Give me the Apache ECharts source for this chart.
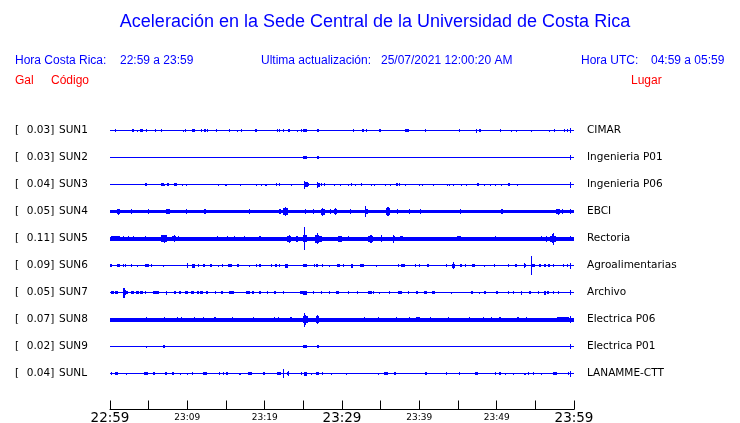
<!DOCTYPE html>
<html><head><meta charset="utf-8">
<script src="https://cdn.jsdelivr.net/npm/echarts@6/dist/echarts.min.js"></script>
<style>html,body{margin:0;padding:0;background:#fff}#c{width:740px;height:423px}</style>
</head><body><div id="c"></div>
<script>
// ---- data ----
const stationCodes = ['SUN1','SUN2','SUN3','SUN4','SUN5','SUN6','SUN7','SUN8','SUN9','SUNL'];
const peakGal = ['0.03','0.03','0.04','0.05','0.11','0.09','0.05','0.07','0.02','0.04'];
const places = ['CIMAR','Ingenieria P01','Ingenieria P06','EBCI','Rectoria','Agroalimentarias','Archivo','Electrica P06','Electrica P01','LANAMME-CTT'];
const timeLabels = ['22:59','23:09','23:19','23:29','23:39','23:49','23:59'];
// background noise half-amplitude per trace (amplitude units; 27 units = trace spacing)
const baseNoise = [0.5,0.5,0.5,1.8,2.0,0.5,0.8,2.0,0.5,0.5];
// events: [minute after 22:59, half-amplitude, duration in minutes]
const SUN1 = [[0.73,1.3,.13],[2.03,0.8,.13],[2.97,1.3,.3],[3.53,1,.13],[4.09,1.3,.3],[4.70,1.3,.13],[5.86,1.3,.13],[6.68,1.3,.13],[9.53,1,.13],[9.78,1.3,.13],[10.78,1.3,.3],[11.85,1.3,.13],[12.28,1.6,.3],[12.59,1.6,.13],[13.79,1.3,.13],[15.43,1.3,.13],[16.51,1,.13],[17.03,1.3,.13],[18.88,1.3,.3],[21.64,1.3,.13],[21.90,1.3,.13],[22.46,1.3,.13],[23.10,1.3,.25],[24.22,1,.13],[24.78,1.3,.13],[25.22,1.8,.5],[26.90,1.6,.3],[31.47,1.3,.13],[32.72,1.6,.3],[33.19,1.3,.13],[34.87,1.3,.25],[37.16,0.8,.13],[38.36,1.6,.3],[38.66,1.3,.13],[40.82,1.3,.13],[45.17,1.3,.13],[47.37,2,.13],[47.84,1.6,.3],[50.47,1.3,.13],[51.90,1,.13],[52.59,1,.13],[54.48,1,.13],[56.81,1,.13],[57.50,1.3,.13],[58.75,1.3,.13],[59.22,1.3,.13],[59.57,2.7,.2]];
const SUN2 = [[4.70,0.8,.13],[25.22,1.4,.5],[26.90,1.3,.3],[59.57,2.5,.2]];
const SUN3 = [[1.08,0.8,.13],[1.38,0.8,.13],[3.66,0.8,.13],[4.66,1.3,.3],[5.52,0.8,.13],[6.25,0.8,.13],[6.77,1.3,.3],[7.11,1,.13],[7.54,1.3,.3],[8.49,1.5,.3],[9.40,1,.13],[9.83,1,.13],[12.72,0.8,.13],[14.01,1,.13],[14.70,0.8,.13],[15.00,1,.13],[16.85,1,.13],[18.97,1,.13],[19.53,1,.13],[20.22,1,.25],[21.55,1.3,.13],[21.90,1.3,.13],[23.49,1,.13],[25.15,4,.15],[25.3,2.8,.5],[25.6,1.6,.3],[26.81,3,.13],[26.95,2,.4],[27.37,1.3,.2],[27.72,1.3,.2],[28.97,1,.13],[29.83,1,.13],[30.82,1,.13],[31.29,1.3,.13],[31.77,1,.13],[32.54,1.3,.13],[33.84,1,.13],[34.18,1,.13],[35.65,1,.13],[36.29,1,.13],[37.07,1.3,.3],[37.46,1.3,.13],[38.15,1,.13],[40.0,1,.13],[40.39,1,.13],[41.81,1,.13],[43.62,1,.13],[43.88,1,.13],[44.40,1,.13],[45.47,1,.13],[46.08,1,.13],[47.63,1.3,.3],[48.41,1,.13],[49.14,1,.13],[49.87,1,.13],[50.65,1,.13],[51.59,1.3,.2],[52.67,1,.13],[53.66,0.8,.13],[59.57,3,.2]];
const SUN4 = [[1.08,3,.2],[1.1,2.3,.5],[2.72,2.2,.13],[4.96,2.2,.13],[7.46,2.8,.3],[7.5,2.4,.6],[9.91,2.2,.13],[12.28,2.2,.25],[18.10,2.2,.13],[21.98,2.2,.2],[22.67,4.7,.15],[22.7,3.2,.6],[25.22,2.4,.13],[26.3,2.2,.13],[27.46,4,.15],[27.5,3,.5],[28.5,2.4,.2],[29.18,3.5,.15],[29.2,2.7,.4],[31.1,2.4,.25],[33.10,5.3,.13],[33.2,2.7,.4],[35.95,4.7,.15],[35.95,3.2,.6],[37.2,2.2,.13],[38.7,2.2,.13],[40.2,2.2,.13],[45.34,2.4,.13],[50.65,2.4,.25],[57.97,3,.15],[57.9,2.5,.5],[58.5,2.5,.2],[59.57,2.7,.2]];
const SUN5 = [[0.65,2.9,.3],[0.7,2.6,1.1],[1.72,2.6,.13],[2.37,2.6,.13],[3.02,2.6,.13],[4.53,2.6,.13],[7.03,4,.15],[6.95,3.2,.8],[8.32,3.5,.15],[8.3,2.9,.5],[8.84,2.6,.13],[13.88,2.6,.13],[15.22,2.6,.13],[16.08,2.6,.13],[17.37,2.6,.13],[19.40,2.6,.3],[23.23,4,.15],[23.2,3,.5],[24.22,3,.3],[25.13,11.5,.13],[25.2,3.5,.5],[26.85,5.3,.15],[26.8,4,.5],[27.0,3,.9],[29.74,3,.5],[29.9,2.7,.3],[30.82,2.6,.13],[33.75,4,.15],[33.7,3,.7],[35.09,3.3,.2],[36.68,4,.13],[36.7,2.9,.3],[37.72,2.7,.4],[45.13,2.9,.5],[49.87,2.6,.13],[55.82,2.6,.13],[56.47,3,.2],[57.33,6,.13],[57.3,4.5,.3],[57.3,3,.8],[59.57,2.7,.2]];
const SUN6 = [[0.13,1.3,.2],[1.08,1.3,.3],[1.72,1.3,.2],[2.03,1.3,.2],[2.80,1.3,.2],[3.53,1,.13],[4.74,1.5,.5],[5.39,1.3,.13],[6.98,1,.13],[10.04,2.7,.13],[10.78,2,.4],[11.42,1.3,.2],[12.16,1.3,.3],[13.06,1.3,.3],[14.01,1,.13],[14.53,1.3,.2],[15.52,1.5,.5],[16.59,1.3,.3],[18.10,1,.13],[18.97,1.3,.2],[19.40,1.3,.2],[20.91,1.3,.2],[21.47,1.3,.25],[21.98,1.3,.13],[22.84,2,.3],[25.22,1.5,.5],[26.42,1.3,.13],[26.81,1.3,.25],[27.50,1.3,.13],[28.32,1,.13],[29.53,1.3,.3],[30.17,1.3,.13],[31.25,2,.3],[32.54,1.5,.5],[34.48,1,.13],[37.28,1.3,.13],[37.93,1.5,.5],[39.44,1.3,.13],[40.04,1.3,.2],[41.16,1.5,.3],[43.53,1.3,.13],[44.40,3.3,.15],[44.4,2,.4],[45.39,1.3,.2],[45.91,1.3,.13],[46.98,1.5,.4],[48.49,1,.13],[49.78,1.3,.13],[51.51,1.3,.13],[52.50,1.3,.13],[53.66,2.7,.13],[53.7,1.5,.3],[54.53,9.5,.13],[54.7,1.5,.4],[55.60,1.3,.25],[56.25,1.3,.25],[56.81,1.3,.25],[57.33,1.3,.13],[58.62,1.3,.2],[59.18,1.3,.13],[59.57,3,.2]];
const SUN7 = [[0.3,1.3,.4],[0.8,1.5,.4],[1.81,5,.13],[1.85,2.5,.4],[2.16,1.7,.3],[2.9,1.3,.4],[3.5,1.3,.4],[4.09,1.3,.3],[4.6,1.3,.2],[5.82,1.7,.4],[6.25,1.3,.3],[7.33,2,.13],[8.41,1.3,.2],[9.05,1.3,.2],[9.91,1.5,.4],[10.65,1.5,.4],[11.4,1.3,.3],[11.85,1.5,.4],[12.50,1.3,.3],[13.58,1.3,.13],[14.44,1.3,.3],[15.73,1.7,.6],[17.89,1.5,.5],[18.53,1.3,.3],[19.40,1.3,.25],[20.39,1.5,.2],[21.34,1.3,.2],[22.41,1.3,.2],[24.78,1.7,.4],[25.22,2,.4],[26.29,1.3,.2],[27.37,1.3,.13],[28.32,1.3,.13],[29.40,1.3,.3],[30.82,1.3,.2],[31.94,1.3,.13],[33.62,1.5,.5],[34.05,1.3,.2],[34.91,1,.13],[36.08,1.3,.13],[37.50,1.5,.4],[38.58,1.3,.13],[39.66,1.7,.3],[40.82,1.5,.4],[41.81,1.5,.4],[44.18,1,.13],[46.77,1.3,.3],[47.84,1,.13],[48.49,1.3,.2],[50.0,1.7,.3],[51.51,1.3,.13],[52.16,1.3,.2],[53.23,2,.13],[54.31,1.3,.2],[55.39,1.3,.13],[56.25,2,.3],[56.6,1.3,.3],[57.33,1.5,.2],[57.97,1.3,.13],[59.57,2.5,.2]];
const SUN8 = [[4.70,2.2,.13],[7.03,2.7,.13],[8.75,2.4,.2],[9.27,2.4,.2],[10.99,2.4,.13],[12.07,2.5,.2],[13.58,2.5,.3],[15.86,2.4,.13],[18.62,2.4,.13],[21.25,2.4,.13],[21.77,2.4,.13],[23.41,2.5,.25],[25.13,7,.13],[25.2,5,.3],[25.3,3.5,.6],[26.81,4.7,.13],[26.85,3.5,.4],[32.89,2.4,.13],[34.70,2.4,.13],[37.07,2.4,.13],[38.79,2.4,.13],[39.87,2.5,.5],[41.38,2.4,.13],[43.75,2.5,.2],[46.55,2.4,.13],[48.28,2.5,.2],[49.35,2.4,.13],[50.43,2.4,.25],[52.80,2.5,.3],[53.88,2.4,.13],[58.6,2.4,1.5],[59.57,3.3,.2]];
const SUN9 = [[4.70,1,.13],[6.98,1.2,.25],[7.46,0.8,.13],[23.36,0.8,.13],[25.22,1.6,.5],[26.94,1.2,.25],[59.57,2.5,.2]];
const SUNL = [[0.22,1.2,.2],[0.86,1.2,.3],[2.16,1,.13],[3.53,0.8,.13],[4.70,1.5,.5],[5.69,1.2,.2],[7.24,1.2,.3],[8.15,1.2,.3],[9.18,1,.13],[10.04,1,.13],[10.65,1.2,.2],[12.28,1.3,.4],[14.22,1.2,.13],[14.66,1.2,.2],[15.13,1.2,.2],[16.81,1,.13],[18.10,1.2,.4],[19.91,1.2,.3],[21.85,1.3,.5],[22.41,4.3,.13],[23.06,2.7,.13],[23.0,1.3,.3],[24.70,1.2,.13],[25.26,2,.4],[26.08,1,.13],[26.81,1.3,.4],[27.46,1.7,.2],[28.66,1,.13],[30.60,1,.13],[31.47,0.8,.13],[32.24,0.8,.13],[34.78,1,.13],[35.73,1.3,.5],[36.85,1.2,.3],[39.01,0.8,.13],[40.82,1.3,.25],[43.53,1.7,.13],[45.13,1.2,.13],[45.78,0.8,.13],[47.41,1.3,.3],[49.87,1.2,.2],[50.43,1.2,.2],[51.08,1,.13],[52.24,1,.13],[53.66,1,.2],[54.09,1.2,.2],[54.74,1.2,.2],[55.82,1,.13],[57.54,1.3,.6],[59.27,1.3,.13],[59.57,3,.2]];
const traces = [SUN1,SUN2,SUN3,SUN4,SUN5,SUN6,SUN7,SUN8,SUN9,SUNL];

const headerTitle = 'Aceleración en la Sede Central de la Universidad de Costa Rica';
const headerInfo = ['Hora Costa Rica:','22:59 a 23:59','Ultima actualización:','25/07/2021 12:00:20 AM','Hora UTC:','04:59 a 05:59'];
const headerCols = ['Gal','Código','Lugar'];

// ---- build ----
const ROW_SPAN = 27; // amplitude units per trace row
const BLUE = '#0000ff';
const items = [];
traces.forEach((ev, row) => {
  items.push([row, 30, baseNoise[row], 60]);
  ev.forEach(e => items.push([row, e[0], e[1], e[2]]));
});

function renderItem(params, api) {
  const row = api.value(0), t = api.value(1), amp = api.value(2), dur = api.value(3);
  const a = api.coord([t - dur / 2, row - amp / ROW_SPAN]);
  const b = api.coord([t + dur / 2, row + amp / ROW_SPAN]);
  let x1 = Math.round(Math.min(a[0], b[0])), x2 = Math.round(Math.max(a[0], b[0]));
  let y1 = Math.round(Math.min(a[1], b[1])), y2 = Math.round(Math.max(a[1], b[1]));
  if (x2 - x1 < 1) x2 = x1 + 1;
  if (y2 - y1 < 1) y2 = y1 + 1;
  return { type: 'rect', shape: { x: x1, y: y1, width: x2 - x1, height: y2 - y1 }, style: { fill: BLUE } };
}

const LBL_FONT = 'DejaVu Sans';
const yCommon = {
  type: 'value', min: -0.5, max: 31 / 3, interval: 0.5, inverse: true,
  axisLine: { show: false }, axisTick: { show: false }, splitLine: { show: false }
};
const rowOf = v => (Number.isInteger(v) && v >= 0 && v < stationCodes.length) ? v : -1;

const chart = echarts.init(document.getElementById('c'), null, { renderer: 'canvas' });
const hx = [15, 120, 261, 381, 581, 651];
const graphics = [
  { type: 'text', x: 375, y: 22, style: { text: headerTitle, font: '18px "Liberation Sans"', fill: BLUE, align: 'center', verticalAlign: 'middle' } }
];
headerInfo.forEach((s, i) => graphics.push({ type: 'text', x: hx[i], y: 61, style: { text: s, font: '12px "Liberation Sans"', fill: BLUE, align: 'left', verticalAlign: 'middle' } }));
[15, 51, 631].forEach((x, i) => graphics.push({ type: 'text', x: x, y: 81, style: { text: headerCols[i], font: '12px "Liberation Sans"', fill: '#ff0000', align: 'left', verticalAlign: 'middle' } }));

chart.setOption({
  animation: false,
  backgroundColor: '#fff',
  grid: { left: 110, right: 166, top: 117, bottom: 13.5, outerBoundsMode: 'none', containLabel: false },
  xAxis: {
    type: 'value', min: 0, max: 60, interval: 5, position: 'bottom',
    axisLine: { onZero: false, lineStyle: { color: '#000', width: 1 } },
    axisTick: { inside: true, length: 9, lineStyle: { color: '#000' } },
    splitLine: { show: false },
    axisLabel: {
      margin: 2, color: '#000', fontFamily: LBL_FONT,
      formatter: v => {
        if (v % 10 !== 0) return '';
        const s = timeLabels[v / 10];
        return v % 30 === 0 ? '{big|' + s + '}' : '{small|' + s + '}';
      },
      rich: { big: { fontSize: 13.5, fontFamily: LBL_FONT, color: '#000' }, small: { fontSize: 9, fontFamily: LBL_FONT, color: '#000', padding: [2, 0, 0, 0] } }
    }
  },
  yAxis: [
    Object.assign({}, yCommon, {
      position: 'left',
      axisLabel: {
        align: 'left', margin: 95, color: '#000', fontFamily: LBL_FONT, fontSize: 10.5,
        formatter: v => { const r = rowOf(v); return r < 0 ? '' : '{b|[}{v|' + peakGal[r] + ']}{c|' + stationCodes[r] + '}'; },
        rich: {
          b: { width: 12, align: 'left', fontSize: 10.5, fontFamily: LBL_FONT, color: '#000' },
          v: { width: 27, align: 'right', fontSize: 10.5, fontFamily: LBL_FONT, color: '#000' },
          c: { padding: [0, 0, 0, 5], align: 'left', fontSize: 10.5, fontFamily: LBL_FONT, color: '#000' }
        }
      }
    }),
    Object.assign({}, yCommon, {
      position: 'right',
      axisLabel: {
        align: 'left', margin: 13, color: '#000', fontFamily: LBL_FONT, fontSize: 10.5,
        formatter: v => { const r = rowOf(v); return r < 0 ? '' : places[r]; }
      }
    })
  ],
  graphic: graphics,
  series: [{
    type: 'custom', renderItem: renderItem, data: items, silent: true,
    encode: { x: [1], y: [0] }, clip: false
  }]
});
</script></body></html>
